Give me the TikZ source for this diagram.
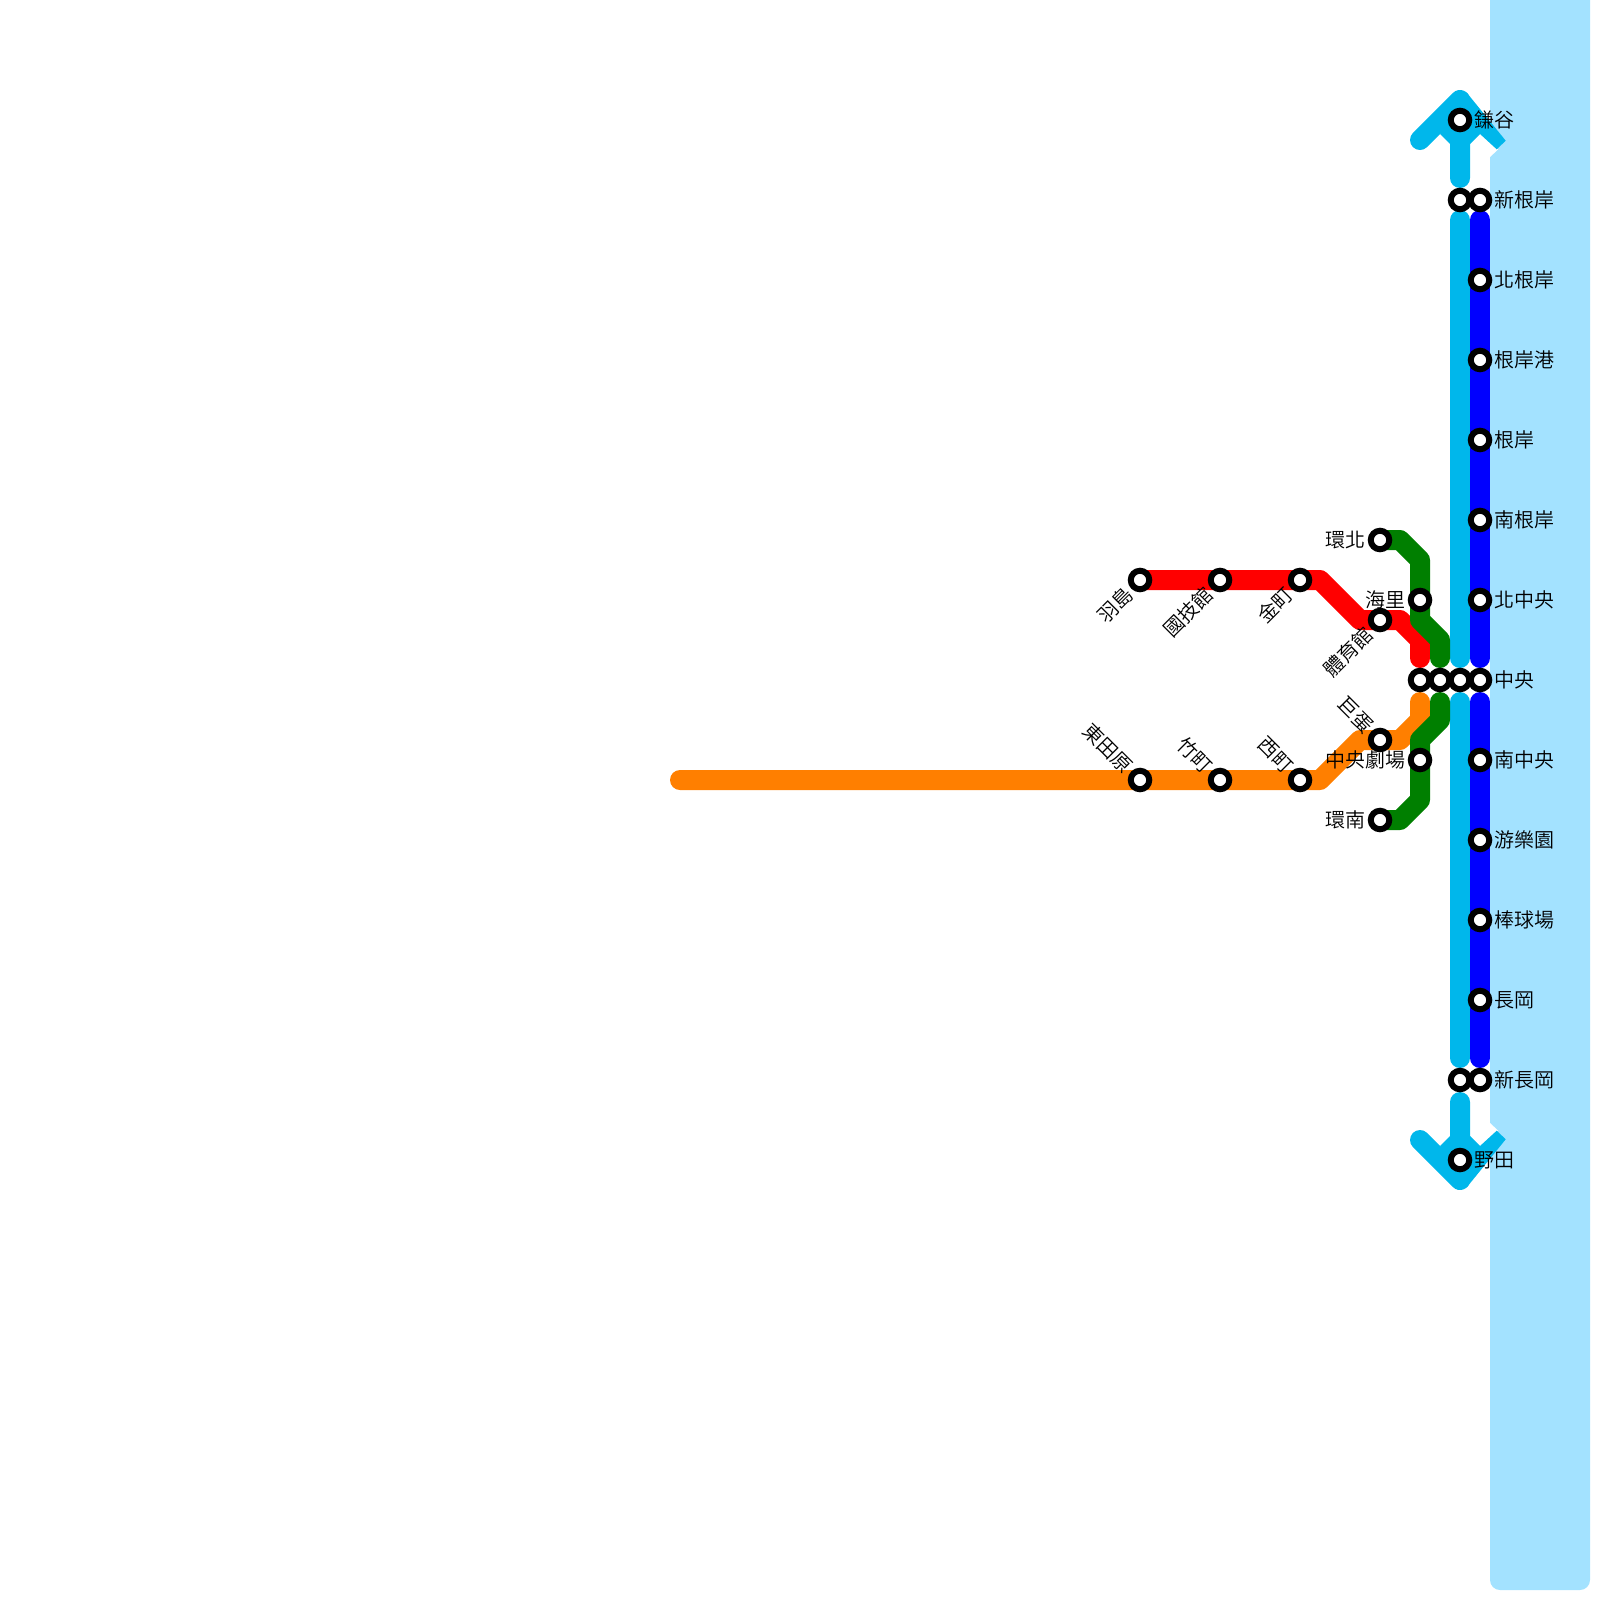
\documentclass[tikz,border=0pt]{standalone}
\usepackage{fontspec}
\setmainfont{Noto Sans CJK TC DemiLight}
\pgfdeclarelayer{water}
\pgfdeclarelayer{lines}
\pgfsetlayers{water,lines,main}
\definecolor{watercol}{HTML}{A3E2FF}
\definecolor{cyanline}{HTML}{00B7EB}
\definecolor{orangeline}{HTML}{FF7F00}
\definecolor{greenline}{HTML}{007F00}
\definecolor{redline}{HTML}{FF0000}
\definecolor{blueline}{HTML}{0000FF}
\tikzset{
  x=1pt,y=-1pt,
  stn/.style={circle,draw=black,fill=white,line width=6pt,minimum size=18.5pt,inner sep=0pt},
  metro/.style={line width=20pt,line cap=round,line join=round},
  lab/.style={font=\fontsize{20pt}{20pt}\selectfont,inner sep=0pt,text=black},
  rlab/.style={lab,anchor=west,xshift=14.5pt},
  llab/.style={lab,anchor=east,xshift=-14.5pt},
  dlab/.style={lab,xshift=-10.6pt,yshift=-10.6pt,anchor=east,rotate=45},
  ulab/.style={lab,xshift=-10.6pt,yshift=10.6pt,anchor=east,rotate=-45},
}
\begin{document}
\begin{tikzpicture}
\useasboundingbox (0,0) rectangle (1600,1600);
% stations
\node[stn] (kamaya) at (1460,120) {};
\node[stn] (c200) at (1460,200) {};
\node[stn] (shinnegishi) at (1480,200) {};
\node[stn] (kitanegishi) at (1480,280) {};
\node[stn] (minato) at (1480,360) {};
\node[stn] (negishi) at (1480,440) {};
\node[stn] (minaminegishi) at (1480,520) {};
\node[stn] (kitachuo) at (1480,600) {};
\node[stn] (r680) at (1420,680) {};
\node[stn] (g680) at (1440,680) {};
\node[stn] (c680) at (1460,680) {};
\node[stn] (chuo) at (1480,680) {};
\node[stn] (minamichuo) at (1480,760) {};
\node[stn] (yuen) at (1480,840) {};
\node[stn] (bou) at (1480,920) {};
\node[stn] (nagaoka) at (1480,1000) {};
\node[stn] (c1080) at (1460,1080) {};
\node[stn] (shinnagaoka) at (1480,1080) {};
\node[stn] (noda) at (1460,1160) {};
\node[stn] (kanhoku) at (1380,540) {};
\node[stn] (kairi) at (1420,600) {};
\node[stn] (taiiku) at (1380,620) {};
\node[stn] (kyodome) at (1380,740) {};
\node[stn] (gekijo) at (1420,760) {};
\node[stn] (kannan) at (1380,820) {};
\node[stn] (hashima) at (1140,580) {};
\node[stn] (kokugi) at (1220,580) {};
\node[stn] (kanamachi) at (1300,580) {};
\node[stn] (higashi) at (1140,780) {};
\node[stn] (takemachi) at (1220,780) {};
\node[stn] (nishimachi) at (1300,780) {};
\coordinate (orangeend) at (680,780);
% labels
\node[rlab] (t1) at (kamaya) {鎌谷};
\node[rlab] (t2) at (shinnegishi) {新根岸};
\node[rlab] (t3) at (kitanegishi) {北根岸};
\node[rlab] (t4) at (minato) {根岸港};
\node[rlab] (t5) at (negishi) {根岸};
\node[rlab] (t6) at (minaminegishi) {南根岸};
\node[rlab] (t7) at (kitachuo) {北中央};
\node[rlab] (t8) at (chuo) {中央};
\node[rlab] (t9) at (minamichuo) {南中央};
\node[rlab] (t10) at (yuen) {游樂園};
\node[rlab] (t11) at (bou) {棒球場};
\node[rlab] (t12) at (nagaoka) {長岡};
\node[rlab] (t13) at (shinnagaoka) {新長岡};
\node[rlab] (t14) at (noda) {野田};
\node[llab] (t15) at (kanhoku) {環北};
\node[llab] (t16) at (kairi) {海里};
\node[llab] (t17) at (gekijo) {中央劇場};
\node[llab] (t18) at (kannan) {環南};
\node[dlab] (t19) at (taiiku) {體育館};
\node[dlab] (t20) at (hashima) {羽島};
\node[dlab] (t21) at (kokugi) {國技館};
\node[dlab] (t22) at (kanamachi) {金町};
\node[ulab] (t23) at (kyodome) {巨蛋};
\node[ulab] (t24) at (higashi) {東田原};
\node[ulab] (t25) at (takemachi) {竹町};
\node[ulab] (t26) at (nishimachi) {西町};
% water
\begin{pgfonlayer}{water}
\begin{scope}
\clip (0,0) rectangle (1600,1600);
\fill[watercol,rounded corners=10pt] (1490,-30) rectangle (1590,1590);
\end{scope}
\fill[white] (1490,140) -- (1498,149.5) -- (1490,157) -- cycle;
\fill[white] (1490,1140) -- (1498,1130.5) -- (1490,1123) -- cycle;
\end{pgfonlayer}
% lines
\begin{pgfonlayer}{lines}
% cyan trunk and arrows
\draw[metro,cyanline] ([yshift=-20pt]c200.center) -- ([yshift=22pt]c680.center);
\draw[metro,cyanline] ([yshift=-22pt]c680.center) -- ([yshift=22pt]c1080.center);
\draw[metro,cyanline] ([yshift=22pt]c200.center) -- (kamaya.center) -- (1460,100) -- (1420,140);
\draw[metro,cyanline] ([yshift=-22pt]c1080.center) -- (noda.center) -- (1460,1180) -- (1420,1140);
\fill[cyanline] (1467,93) -- (1505.7,140.7) -- (1496.7,149.3) -- (1480,134) -- (1470,144) -- (1450,144) -- (1440,134) -- (1460,100) -- cycle;
\fill[cyanline] (1467,1187) -- (1505.7,1139.3) -- (1496.7,1130.7) -- (1480,1146) -- (1470,1136) -- (1450,1136) -- (1440,1146) -- (1460,1180) -- cycle;
% blue
\draw[metro,blueline] ([yshift=-20pt]shinnegishi.center) -- ([yshift=22pt]chuo.center);
\draw[metro,blueline] ([yshift=-22pt]chuo.center) -- ([yshift=22pt]shinnagaoka.center);
% red
\draw[metro,redline] (hashima.center) -- (kokugi.center) -- (kanamachi.center) -- (1320,580) -- (1360,620) -- (taiiku.center) -- (1400,620) -- (1420,640) -- ([yshift=22pt]r680.center);
% orange
\draw[metro,orangeline] (orangeend) -- (higashi.center) -- (takemachi.center) -- (nishimachi.center) -- (1320,780) -- (1360,740) -- (kyodome.center) -- (1400,740) -- (1420,720) -- ([yshift=-22pt]r680.center);
% green
\draw[metro,greenline] (kanhoku.center) -- (1400,540) -- (1420,560) -- (kairi.center) -- (1420,620) -- (1440,640) -- ([yshift=22pt]g680.center);
\draw[metro,greenline] ([yshift=-22pt]g680.center) -- (1440,720) -- (1420,740) -- (gekijo.center) -- (1420,800) -- (1400,820) -- (kannan.center);
\end{pgfonlayer}
\end{tikzpicture}
\end{document}
